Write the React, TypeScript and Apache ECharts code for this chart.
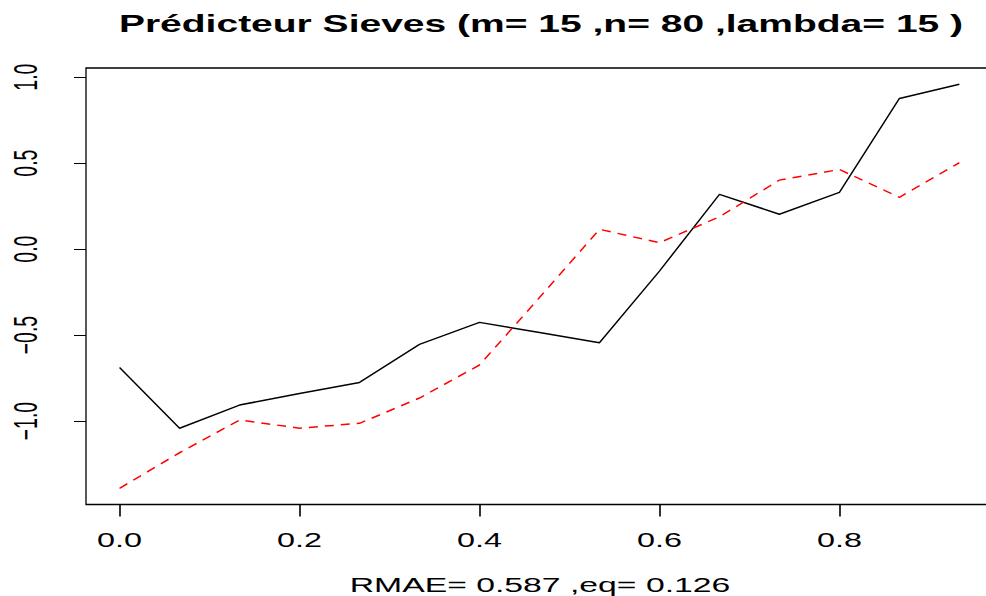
import React, { useEffect, useRef } from "react";
import * as echarts from "echarts";

const xValues = [0, 0.0667, 0.1333, 0.2, 0.2667, 0.3333, 0.4, 0.4667, 0.5333, 0.6, 0.6667, 0.7333, 0.8, 0.8667, 0.9333];
const observed = [-0.688, -1.042, -0.907, -0.839, -0.775, -0.554, -0.426, -0.485, -0.545, -0.128, 0.318, 0.203, 0.33, 0.876, 0.959];
const predicted = [-1.391, -1.184, -0.994, -1.041, -1.013, -0.866, -0.674, -0.282, 0.115, 0.037, 0.188, 0.401, 0.463, 0.301, 0.502];
const xTicks = [0, 0.2, 0.4, 0.6, 0.8];
const xTickLabels = ["0.0", "0.2", "0.4", "0.6", "0.8"];
const yTicks = [-1, -0.5, 0, 0.5, 1];
const yTickLabels = ["\u22121.0", "\u22120.5", "0.0", "0.5", "1.0"];
const titleText = "Prédicteur Sieves (m= 15 ,n= 80 ,lambda= 15 )";
const subText = "RMAE= 0.587 ,eq= 0.126";

const X_MIN = -0.0373;
const X_MAX = 0.9707;
const Y_MIN = -1.485;
const Y_MAX = 1.053;

const STRETCH = 1.66;
const FONT = "'Liberation Sans', Arial, Helvetica, sans-serif";

export default function App() {
  const ref = useRef<HTMLDivElement>(null);
  useEffect(() => {
    if (!ref.current) return;
    const chart = echarts.init(ref.current, undefined, { renderer: "svg" });
    const option: any = {
      animation: false,
      backgroundColor: "#ffffff",
      grid: {
        left: 86,
        top: 68,
        width: 907,
        height: 436.5,
        show: true,
        borderColor: "#000",
        borderWidth: 1.3,
        backgroundColor: "transparent",
      },
      xAxis: {
        type: "value",
        min: X_MIN,
        max: X_MAX,
        axisLine: { show: false, onZero: false },
        splitLine: { show: false },
        axisLabel: { show: false },
        axisTick: {
          show: true,
          inside: false,
          length: 12,
          customValues: xTicks,
          lineStyle: { color: "#000", width: 1.6 },
        },
      },
      yAxis: {
        type: "value",
        min: Y_MIN,
        max: Y_MAX,
        axisLine: { show: false, onZero: false },
        splitLine: { show: false },
        axisLabel: { show: false },
        axisTick: {
          show: true,
          inside: false,
          length: 12,
          customValues: yTicks,
          lineStyle: { color: "#000", width: 1 },
        },
      },
      series: [
        {
          type: "line",
          data: xValues.map((x, i) => [x, observed[i]]),
          showSymbol: false,
          symbol: "none",
          lineStyle: { color: "#000", width: 1.5 },
        },
        {
          type: "line",
          data: xValues.map((x, i) => [x, predicted[i]]),
          showSymbol: false,
          symbol: "none",
          lineStyle: { color: "#ff0000", width: 1.5, type: [9, 7] },
        },
      ],
    };
    chart.setOption(option);

    const graphics: any[] = [];
    xTicks.forEach((v, i) => {
      const p = chart.convertToPixel({ gridIndex: 0 }, [v, Y_MIN]) as number[];
      graphics.push({
        type: "text",
        x: p[0],
        y: 540,
        scaleX: STRETCH,
        style: {
          text: xTickLabels[i],
          fontFamily: FONT,
          fontSize: 19.5,
          fill: "#000",
          textAlign: "center",
          textVerticalAlign: "middle",
        },
      });
    });
    yTicks.forEach((v, i) => {
      const p = chart.convertToPixel({ gridIndex: 0 }, [X_MIN, v]) as number[];
      graphics.push({
        type: "text",
        x: 26,
        y: p[1],
        rotation: Math.PI / 2,
        scaleY: STRETCH,
        style: {
          text: yTickLabels[i],
          fontFamily: FONT,
          fontSize: 19.5,
          fill: "#000",
          textAlign: "center",
          textVerticalAlign: "middle",
        },
      });
    });
    graphics.push({
      type: "text",
      x: 541,
      y: 23.5,
      scaleX: 1.66,
      style: {
        text: titleText,
        fontFamily: FONT,
        fontSize: 23.5,
        fontWeight: "bold",
        fill: "#000",
        textAlign: "center",
        textVerticalAlign: "middle",
      },
    });
    graphics.push({
      type: "text",
      x: 540,
      y: 585,
      scaleX: 1.73,
      style: {
        text: subText,
        fontFamily: FONT,
        fontSize: 19.5,
        fill: "#000",
        textAlign: "center",
        textVerticalAlign: "middle",
      },
    });
    chart.setOption({ graphic: graphics });

    return () => chart.dispose();
  }, []);
  return (
    <div
      style={{ position: "absolute", left: 0, top: 0, width: 986, height: 596, overflow: "hidden", background: "#fff" }}
    >
      <div ref={ref} style={{ width: 1000, height: 596 }} />
    </div>
  );
}
